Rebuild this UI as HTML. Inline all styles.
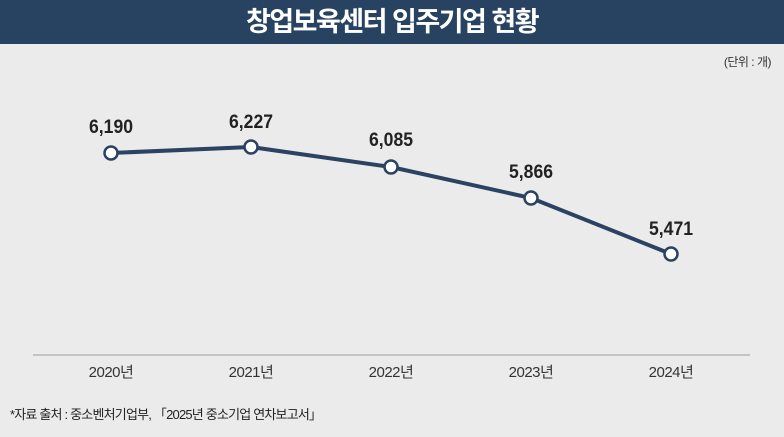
<!DOCTYPE html>
<html><head><meta charset="utf-8"><style>
body{margin:0;width:784px;height:437px;background:#ebebeb;font-family:"Liberation Sans","Noto Sans CJK KR",sans-serif;overflow:hidden;position:relative}
.h{position:absolute;left:0;top:0;width:784px;height:44px;background:#284362;color:#fff;font-size:27px;font-weight:bold;text-align:center;line-height:44px;letter-spacing:-1.5px}
</style></head><body>
<div class="h">창업보육센터 입주기업 현황</div>
<svg width="784" height="437" style="position:absolute;left:0;top:0" font-family="Liberation Sans, Noto Sans CJK KR, sans-serif">
<text x="771" y="66" font-size="12" text-anchor="end" fill="#333" letter-spacing="-0.5">(단위 : 개)</text>
<line x1="33" y1="355" x2="750" y2="355" stroke="#c4c4c4" stroke-width="2"/>
<polyline points="111,153 251,147 391,167 531,198 671,254" fill="none" stroke="#2b4262" stroke-width="4"/>
<g fill="#fff" stroke="#2b4262" stroke-width="2.5">
<circle cx="111" cy="153" r="6.5"/><circle cx="251" cy="147" r="6.5"/><circle cx="391" cy="167" r="6.5"/><circle cx="531" cy="198" r="6.5"/><circle cx="671" cy="254" r="6.5"/></g>
<g font-size="19" font-weight="bold" fill="#222" text-anchor="middle">
<text x="111" y="133" textLength="44" lengthAdjust="spacingAndGlyphs">6,190</text><text x="251" y="128" textLength="44" lengthAdjust="spacingAndGlyphs">6,227</text><text x="391" y="146" textLength="44" lengthAdjust="spacingAndGlyphs">6,085</text><text x="531" y="178" textLength="44" lengthAdjust="spacingAndGlyphs">5,866</text><text x="671" y="235" textLength="44" lengthAdjust="spacingAndGlyphs">5,471</text></g>
<g font-size="15" fill="#333" text-anchor="middle" letter-spacing="-0.5">
<text x="111" y="377">2020년</text><text x="251" y="377">2021년</text><text x="391" y="377">2022년</text><text x="531" y="377">2023년</text><text x="671" y="377">2024년</text></g>
<text x="10" y="419" font-size="13" fill="#222" letter-spacing="-0.8">*자료 출처 : 중소벤처기업부, 「2025년 중소기업 연차보고서」</text>
</svg>
</body></html>
